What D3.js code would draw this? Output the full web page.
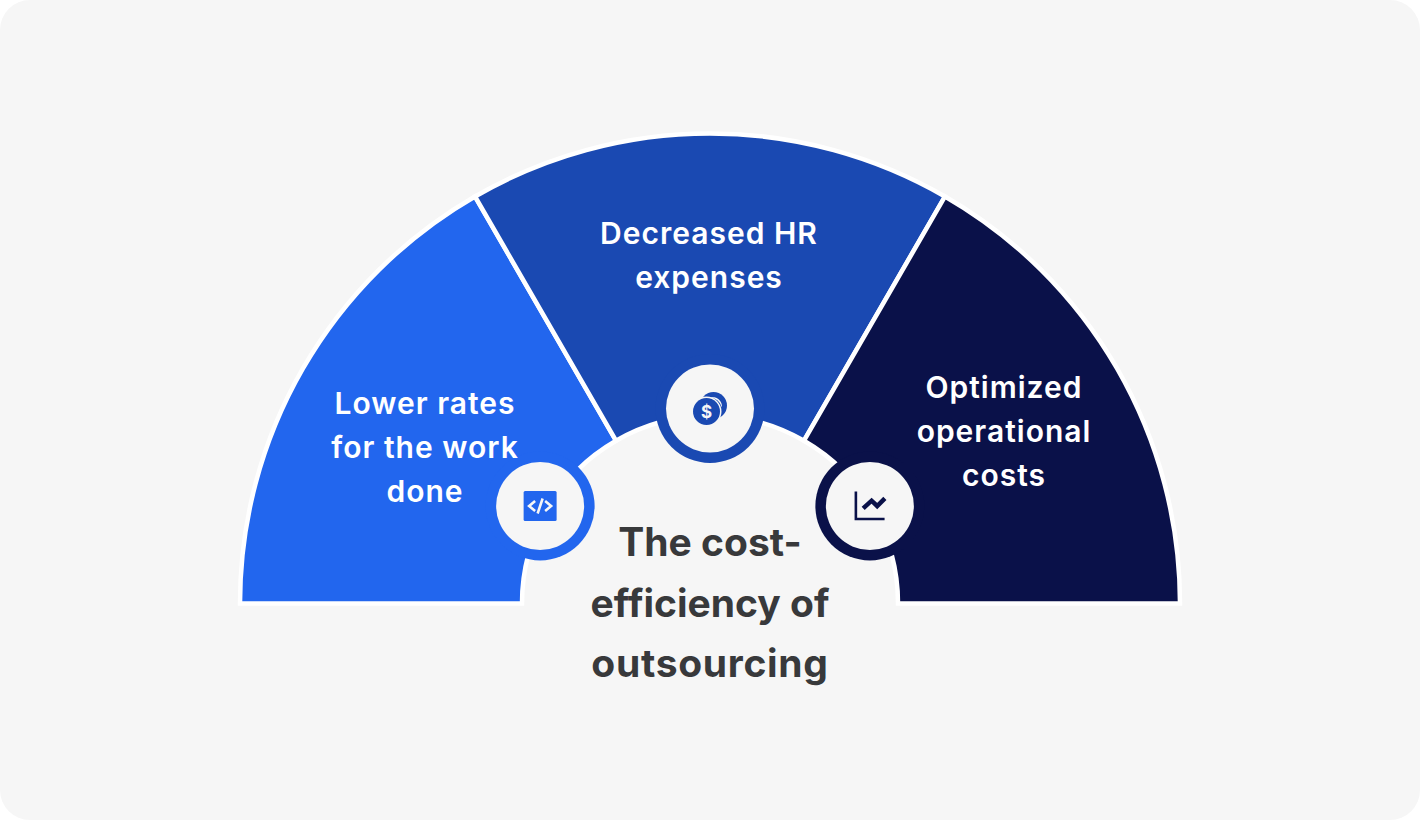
<!DOCTYPE html>
<html>
<head>
<meta charset="utf-8">
<script src="https://cdn.jsdelivr.net/npm/d3@7"></script>
<style>
  html, body { margin: 0; padding: 0; background: #fff; }
  svg { display: block; font-family: Inter, "Noto Sans", sans-serif; }
</style>
</head>
<body>
<div id="root"></div>
<script>
const categories = [
  ["Lower rates", "for the work", "done"],
  ["Decreased HR", "expenses"],
  ["Optimized", "operational", "costs"]
];
const shares = [1, 1, 1];
const colors = ["#2266ee", "#1a49b2", "#0a1149"];
const titleLines = ["The cost-", "efficiency of", "outsourcing"];
const iconNames = ["code", "coins", "chart"];

const width = 1420;
const height = 820;
const cx = 710;
const cy = 603.5;
const bg = "#f6f6f6";

let svg = d3
  .select("#root")
  .append("svg")
  .attr("width", width)
  .attr("height", height);

svg
  .append("rect")
  .attr("width", width)
  .attr("height", height)
  .attr("rx", 30)
  .attr("fill", bg);

let pie = d3
  .pie()
  .sort(null)
  .startAngle(-Math.PI / 2)
  .endAngle(Math.PI / 2);

let arc = d3.arc().innerRadius(188).outerRadius(470);
let badgeArc = d3.arc().innerRadius(195).outerRadius(195);

let arcs = pie(shares);

let chart = svg.append("g").attr("transform", `translate(${cx}, ${cy})`);

chart
  .selectAll("path.slice")
  .data(arcs)
  .enter()
  .append("path")
  .attr("class", "slice")
  .attr("d", arc)
  .attr("fill", (d, i) => colors[i])
  .attr("stroke", "#fff")
  .attr("stroke-width", 4.5)
  .attr("stroke-linejoin", "miter");

// label blocks are not centred on the slices, so they get their own spots
const labelX = [425, 709, 1004];
const labelY = [447, 254.5, 431];
const lineGap = 44;

categories.forEach((lines, i) => {
  svg
    .append("text")
    .attr("text-anchor", "middle")
    .attr("fill", "#fff")
    .style("font-size", "30px")
    .style("font-weight", 600)
    .style("letter-spacing", "1px")
    .selectAll("tspan")
    .data(lines)
    .enter()
    .append("tspan")
    .attr("x", labelX[i])
    .attr("y", (t, j) => labelY[i] + (j - (lines.length - 1) / 2) * lineGap + 11)
    .text((t) => t);
});

// icons are drawn around 0,0 of each badge
function drawIcon(g, name, color) {
  if (name === "code") {
    g.append("rect")
      .attr("x", -16.5).attr("y", -15)
      .attr("width", 33).attr("height", 30)
      .attr("rx", 1.5)
      .attr("fill", color);
    g.append("path")
      .attr("d", "M-5,-5 L-11,0 L-5,5 M5,-5 L11,0 L5,5 M2.5,-7.5 L-2.5,7.5")
      .attr("fill", "none")
      .attr("stroke", bg)
      .attr("stroke-width", 2.6);
  } else if (name === "coins") {
    g.append("circle").attr("cx", 3.5).attr("cy", -3).attr("r", 13.5).attr("fill", color);
    g.append("path")
      .attr("d", "M0,-11 A9.5,9.5 0 0 1 12,-1 A14,14 0 0 0 0,-11 Z")
      .attr("fill", bg);
    g.append("circle").attr("cx", -3.5).attr("cy", 3).attr("r", 15).attr("fill", bg);
    g.append("circle").attr("cx", -3.5).attr("cy", 3).attr("r", 13.5).attr("fill", color);
    g.append("text")
      .attr("x", -3.5).attr("y", 9)
      .attr("text-anchor", "middle")
      .attr("fill", bg)
      .style("font-size", "17px")
      .style("font-weight", 700)
      .text("$");
  } else {
    g.append("path")
      .attr("d", "M-14,-14.5 V13 H14.7")
      .attr("fill", "none")
      .attr("stroke", color)
      .attr("stroke-width", 2.6);
    g.append("path")
      .attr("d", "M-6.7,2.3 L1.7,-5.3 L7.3,0 L15,-7.7")
      .attr("fill", "none")
      .attr("stroke", color)
      .attr("stroke-width", 4.5);
  }
}

// the right badge sits closer to the middle than the left one
const badgeNudge = [-1, 0, -9];

let badges = chart
  .selectAll("g.badge")
  .data(arcs)
  .enter()
  .append("g")
  .attr("class", "badge")
  .attr("transform", (d, i) => {
    let c = badgeArc.centroid(d);
    return `translate(${c[0] + badgeNudge[i]}, ${c[1]})`;
  });

badges
  .append("circle")
  .attr("r", 54.5)
  .attr("fill", (d, i) => colors[i]);

badges.append("circle").attr("r", 44).attr("fill", bg);

badges.each(function (d, i) {
  drawIcon(d3.select(this), iconNames[i], colors[i]);
});

const titleSpacing = [0, 0, 0.7];

svg
  .append("text")
  .attr("text-anchor", "middle")
  .attr("fill", "#38393b")
  .style("font-size", "39px")
  .style("font-weight", 700)
  .selectAll("tspan")
  .data(titleLines)
  .enter()
  .append("tspan")
  .attr("x", cx)
  .attr("y", (t, i) => 556 + i * 60.5)
  .style("letter-spacing", (t, i) => titleSpacing[i] + "px")
  .text((t) => t);
</script>
</body>
</html>
